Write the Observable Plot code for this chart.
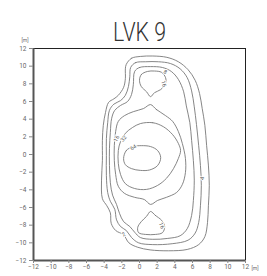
<!DOCTYPE html>
<html>
<head>
<meta charset="utf-8">
<script src="https://cdn.jsdelivr.net/npm/d3@7"></script>
<script src="https://cdn.jsdelivr.net/npm/@observablehq/plot@0.6"></script>
<style>
  html, body { margin: 0; padding: 0; background: #fff; }
  #chart svg { display: block; }
</style>
</head>
<body>
<div id="chart"></div>
<script>
const title = "LVK 9";
const unitLabel = "[m]";
const xTicks = [-12, -10, -8, -6, -4, -2, 0, 2, 4, 6, 8, 10, 12];
const yTicks = [-12, -10, -8, -6, -4, -2, 0, 2, 4, 6, 8, 10, 12];

// contour lines in metres (closed rings)
const contour2 = [[-1.5,10.2],[-0.9,10.9],[0.1,11.1],[1.5,11.15],[3.1,11.0],[4.4,10.5],[5.5,9.6],[6.3,8.4],[6.8,6.9],[7.1,5.2],[7.4,3.3],[7.6,1.0],[7.8,-1.2],[7.9,-3.5],[7.8,-5.8],[7.7,-7.7],[7.4,-9.3],[6.7,-10.2],[5.4,-10.75],[3.3,-10.9],[1.2,-10.8],[-0.2,-10.5],[-1.2,-10.0],[-1.8,-9.1],[-2.7,-8.6],[-3.2,-7.8],[-3.3,-6.6],[-3.7,-5.8],[-4.2,-5.0],[-4.3,-2.9],[-4.2,-0.7],[-4.2,1.6],[-4.1,3.3],[-3.85,4.75],[-3.5,5.9],[-2.9,6.3],[-2.4,6.7],[-1.8,7.6],[-1.6,8.6],[-1.6,9.7]];
const contour4 = [[-1.0,9.85],[-0.45,10.4],[0.7,10.5],[2.15,10.5],[3.5,10.3],[4.6,9.7],[5.4,8.7],[5.9,7.2],[6.2,5.4],[6.45,3.4],[6.7,1.0],[6.9,-1.25],[7.0,-3.5],[6.9,-5.8],[6.7,-7.7],[6.3,-8.9],[5.5,-9.7],[3.7,-10.1],[1.5,-10.2],[-0.1,-10.0],[-0.9,-9.4],[-1.5,-8.6],[-2.15,-8.15],[-2.6,-7.4],[-2.8,-6.2],[-3.3,-5.3],[-3.6,-4.3],[-3.75,-2.4],[-3.75,-0.1],[-3.75,1.8],[-3.6,3.6],[-3.4,5.0],[-2.9,5.7],[-2.15,6.1],[-1.6,6.7],[-1.25,7.7],[-1.1,8.8]];
const contour8 = [[-0.55,9.4],[0,9.85],[1.25,9.95],[2.6,9.85],[3.6,9.4],[4.4,8.5],[5.0,7.1],[5.3,5.5],[5.7,3.6],[5.9,1.6],[6.1,-0.7],[6.2,-2.9],[6.1,-5.2],[5.9,-6.9],[5.4,-8.4],[4.6,-9.2],[3.2,-9.5],[1.5,-9.6],[0.1,-9.4],[-0.55,-8.8],[-1.1,-8.15],[-1.8,-7.6],[-2.25,-6.7],[-2.6,-5.65],[-3.05,-4.6],[-3.3,-3.2],[-3.4,-1.25],[-3.4,0.7],[-3.3,2.5],[-3.15,4.1],[-2.8,5.0],[-2.15,5.55],[-1.35,6.0],[-0.9,6.8],[-0.7,7.9]];
const contour16top = [[0,8.4],[0.2,9.05],[0.9,9.4],[1.7,9.45],[2.5,9.3],[2.95,8.7],[2.95,8.05],[2.4,7.35],[1.7,7.0],[1.25,6.55],[0.8,7.1],[0.2,7.7]];
const contour16mid = [[1.25,5.65],[1.9,5.1],[2.95,4.4],[3.75,3.75],[4.4,2.6],[4.85,1.25],[5.2,-0.45],[5.2,-2.05],[4.85,-3.4],[4.2,-4.3],[3.05,-4.85],[2.05,-5.2],[1.25,-5.65],[0.55,-5.1],[-0.55,-4.85],[-1.7,-4.4],[-2.4,-3.6],[-2.7,-2.25],[-2.85,-0.7],[-2.85,1.0],[-2.7,2.6],[-2.4,3.75],[-1.7,4.4],[-0.7,4.85],[0.45,5.2]];
const contour16bot = [[1.25,-6.45],[1.8,-6.9],[2.5,-7.45],[2.85,-8.15],[2.6,-8.85],[1.8,-9.05],[0.7,-9.05],[-0.1,-8.85],[-0.2,-8.25],[0.2,-7.6],[0.8,-7.0]];
const contour32 = [[0.1,3.5],[1.5,3.6],[2.7,3.15],[3.75,2.25],[4.4,1.25],[4.65,0.45],[4.4,-0.45],[3.85,-1.6],[3.05,-2.7],[2.05,-3.5],[0.8,-3.95],[-0.55,-3.85],[-1.6,-3.3],[-2.15,-2.25],[-2.4,-1.0],[-2.4,0.45],[-2.15,1.45],[-1.6,2.4],[-0.8,3.05]];
const contour64 = [[-1.8,-0.45],[-1.5,0.45],[-0.7,0.9],[0.2,1.0],[1.25,0.9],[2.05,0.45],[2.4,-0.35],[2.05,-1.25],[1.15,-1.75],[0.1,-1.8],[-0.9,-1.6],[-1.6,-1.15]];

// contour labels
const labelText  = ["8", "16", "16", "32", "64", "4", "2", "16"];
const labelX     = [2.9, 2.75, -2.6, -1.8, -0.7, 7.1, -1.8, 2.5];
const labelY     = [9.35, 8.0, 1.8, 1.8, 0.8, -2.7, -9.05, -8.05];
const labelAngle = [30, 75, -65, -50, -30, -80, -30, 70];

const contours = [
  ["c2", contour2], ["c4", contour4], ["c8", contour8],
  ["c16a", contour16top], ["c16b", contour16mid], ["c16c", contour16bot],
  ["c32", contour32], ["c64", contour64]
];
const rows = [];
for (const [id, pts] of contours) for (const [x, y] of pts) rows.push({id, x, y});
const labels = labelText.map((t, i) => ({t, x: labelX[i], y: labelY[i], a: labelAngle[i]}));

const tickFont = "Roboto, 'DejaVu Sans Condensed', sans-serif";

const chart = Plot.plot({
  width: 267,
  height: 276,
  marginLeft: 33,
  marginRight: 22,
  marginTop: 48,
  marginBottom: 16,
  style: {fontFamily: tickFont, fontSize: "6.5px", color: "#555", background: "#fff"},
  x: {domain: [-12, 12], ticks: xTicks},
  y: {domain: [-12, 12], ticks: yTicks},
  marks: [
    Plot.line(rows, {x: "x", y: "y", z: "id", curve: "catmull-rom-closed", stroke: "#707070", strokeWidth: 0.85}),
    Plot.text(labels, {x: "x", y: "y", text: "t", rotate: "a", fontSize: 5.5, fill: "#555", stroke: "white", strokeWidth: 2}),
    Plot.frame({stroke: "#222", strokeWidth: 1}),
    Plot.ruleX([-12], {stroke: "#555", strokeWidth: 2}),
    Plot.ruleY([-12], {stroke: "#555", strokeWidth: 2}),
    Plot.axisX(xTicks, {anchor: "bottom", tickSize: 3, tickPadding: 1, label: null, fill: "#666", stroke: "#888"}),
    Plot.axisY(yTicks, {anchor: "left", tickSize: 4, tickPadding: 3, label: null, fill: "#666", stroke: "#888"}),
    Plot.text([title], {frameAnchor: "top", dy: -25, fontSize: 25, fill: "#333", fontFamily: "Roboto, sans-serif", fontWeight: 300}),
    Plot.text([unitLabel], {frameAnchor: "top-left", dx: -12, dy: -10, fontSize: 5, fill: "#666"}),
    Plot.text([unitLabel], {frameAnchor: "bottom-right", dx: 13, dy: 9, fontSize: 5, fill: "#666"})
  ]
});
// condense the title to the reference's narrow face
d3.select(chart).selectAll("text").filter(function () { return this.textContent === title; })
  .attr("textLength", 53).attr("lengthAdjust", "spacingAndGlyphs");
document.getElementById("chart").appendChild(chart);
</script>
</body>
</html>
